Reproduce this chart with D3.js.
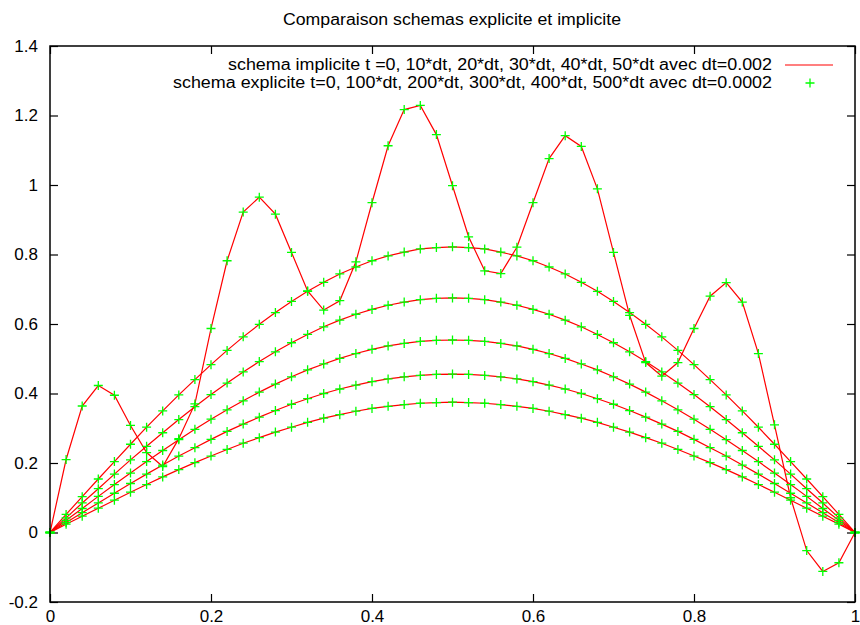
<!DOCTYPE html>
<html>
<head>
<meta charset="utf-8">
<script src="https://cdn.jsdelivr.net/npm/d3@7"></script>
<style>
  html, body { margin: 0; padding: 0; background: #fff; }
  svg { display: block; }
  text { font-family: "Liberation Sans", Arial, Helvetica, sans-serif; fill: #000; }
</style>
</head>
<body>
<svg id="chart" width="860" height="625"></svg>
<script>
const titleText = "Comparaison schemas explicite et implicite";
const legendLabels = [
  "schema implicite t =0, 10*dt, 20*dt, 30*dt, 40*dt, 50*dt avec dt=0.002",
  "schema explicite t=0, 100*dt, 200*dt, 300*dt, 400*dt, 500*dt avec dt=0.0002"
];
const xTicks = [0, 0.2, 0.4, 0.6, 0.8, 1];
const xTickLabels = ["0", "0.2", "0.4", "0.6", "0.8", "1"];
const yTicks = [-0.2, 0, 0.2, 0.4, 0.6, 0.8, 1, 1.2, 1.4];
const yTickLabels = ["-0.2", "0", "0.2", "0.4", "0.6", "0.8", "1", "1.2", "1.4"];

const xs = [0, 0.02, 0.04, 0.06, 0.08, 0.10, 0.12, 0.14, 0.16, 0.18, 0.20, 0.22, 0.24, 0.26, 0.28, 0.30,
  0.32, 0.34, 0.36, 0.38, 0.40, 0.42, 0.44, 0.46, 0.48, 0.50, 0.52, 0.54, 0.56, 0.58, 0.60, 0.62, 0.64,
  0.66, 0.68, 0.70, 0.72, 0.74, 0.76, 0.78, 0.80, 0.82, 0.84, 0.86, 0.88, 0.90, 0.92, 0.94, 0.96, 0.98, 1.00];

const t0 = [0, 0.21, 0.364, 0.423, 0.395, 0.308, 0.23, 0.19, 0.27, 0.37, 0.587, 0.782, 0.922, 0.965, 0.916,
  0.806, 0.695, 0.640, 0.667, 0.779, 0.949, 1.113, 1.217, 1.229, 1.145, 0.998, 0.851, 0.753, 0.745, 0.821,
  0.949, 1.076, 1.142, 1.111, 0.989, 0.806, 0.625, 0.489, 0.450, 0.489, 0.587, 0.680, 0.719, 0.663, 0.515,
  0.310, 0.10, -0.052, -0.112, -0.087, 0];
const t10 = [0, 0.052, 0.103, 0.154, 0.204, 0.254, 0.303, 0.350, 0.396, 0.440, 0.483, 0.524, 0.563, 0.599,
  0.633, 0.665, 0.694, 0.720, 0.744, 0.764, 0.782, 0.796, 0.807, 0.816, 0.820, 0.822, 0.820, 0.816, 0.807,
  0.796, 0.782, 0.764, 0.744, 0.720, 0.694, 0.665, 0.633, 0.599, 0.563, 0.524, 0.483, 0.440, 0.396, 0.350,
  0.303, 0.254, 0.204, 0.154, 0.103, 0.052, 0];
const t20 = [0, 0.042, 0.085, 0.126, 0.168, 0.209, 0.248, 0.287, 0.325, 0.362, 0.397, 0.430, 0.462, 0.492,
  0.520, 0.546, 0.570, 0.592, 0.611, 0.628, 0.642, 0.654, 0.663, 0.670, 0.674, 0.675, 0.674, 0.670, 0.663,
  0.654, 0.642, 0.628, 0.611, 0.592, 0.570, 0.546, 0.520, 0.492, 0.462, 0.430, 0.397, 0.362, 0.325, 0.287,
  0.248, 0.209, 0.168, 0.126, 0.085, 0.042, 0];
const t30 = [0, 0.035, 0.069, 0.104, 0.138, 0.171, 0.204, 0.236, 0.267, 0.297, 0.326, 0.353, 0.379, 0.404,
  0.427, 0.448, 0.468, 0.485, 0.501, 0.515, 0.527, 0.537, 0.544, 0.550, 0.553, 0.554, 0.553, 0.550, 0.544,
  0.537, 0.527, 0.515, 0.501, 0.485, 0.468, 0.448, 0.427, 0.404, 0.379, 0.353, 0.326, 0.297, 0.267, 0.236,
  0.204, 0.171, 0.138, 0.104, 0.069, 0.035, 0];
const t40 = [0, 0.029, 0.057, 0.085, 0.113, 0.141, 0.168, 0.194, 0.220, 0.244, 0.268, 0.291, 0.312, 0.332,
  0.351, 0.369, 0.385, 0.400, 0.413, 0.424, 0.434, 0.442, 0.448, 0.452, 0.455, 0.456, 0.455, 0.452, 0.448,
  0.442, 0.434, 0.424, 0.413, 0.400, 0.385, 0.369, 0.351, 0.332, 0.312, 0.291, 0.268, 0.244, 0.220, 0.194,
  0.168, 0.141, 0.113, 0.085, 0.057, 0.029, 0];
const t50 = [0, 0.024, 0.047, 0.070, 0.093, 0.116, 0.138, 0.160, 0.181, 0.201, 0.220, 0.239, 0.257, 0.273,
  0.289, 0.303, 0.317, 0.329, 0.339, 0.349, 0.357, 0.363, 0.368, 0.372, 0.374, 0.375, 0.374, 0.372, 0.368,
  0.363, 0.357, 0.349, 0.339, 0.329, 0.317, 0.303, 0.289, 0.273, 0.257, 0.239, 0.220, 0.201, 0.181, 0.160,
  0.138, 0.116, 0.093, 0.070, 0.047, 0.024, 0];

const seriesList = [t0, t10, t20, t30, t40, t50];

const svg = d3.select("#chart");
svg.append("rect").attr("width", 860).attr("height", 625).attr("fill", "#fff");

const pLeft = 50, pRight = 855, pTop = 46, pBottom = 602;
const x = d3.scaleLinear().domain([0, 1]).range([pLeft, pRight]);
const y = d3.scaleLinear().domain([-0.2, 1.4]).range([pBottom, pTop]);

// Title
svg.append("text")
  .attr("x", 452).attr("y", 25)
  .attr("text-anchor", "middle")
  .attr("textLength", 338).attr("lengthAdjust", "spacingAndGlyphs")
  .style("font-size", "16px")
  .text(titleText);

// Axes (ticks inward, mirrored)
const fontSize = "17px";
const gL = svg.append("g").attr("transform", `translate(${pLeft},0)`)
  .call(d3.axisLeft(y).tickValues(yTicks).tickSize(-8).tickPadding(12)
    .tickFormat((d, i) => yTickLabels[i]));
const gR = svg.append("g").attr("transform", `translate(${pRight},0)`)
  .call(d3.axisRight(y).tickValues(yTicks).tickSize(-8).tickFormat(""));
const gB = svg.append("g").attr("transform", `translate(0,${pBottom})`)
  .call(d3.axisBottom(x).tickValues(xTicks).tickSize(-8).tickPadding(8)
    .tickFormat((d, i) => xTickLabels[i]));
const gT = svg.append("g").attr("transform", `translate(0,${pTop})`)
  .call(d3.axisTop(x).tickValues(xTicks).tickSize(-8).tickFormat(""));
[gL, gR, gB, gT].forEach(g => {
  g.select(".domain").remove();
  g.selectAll(".tick line").attr("stroke", "#000").attr("stroke-width", 1.2);
  g.selectAll(".tick text").style("font-size", fontSize)
    .style("font-family", '"Liberation Sans", Arial, sans-serif').attr("fill", "#000");
});

// Legend
svg.append("text").attr("x", 772).attr("y", 70).attr("text-anchor", "end")
  .attr("textLength", 544).attr("lengthAdjust", "spacingAndGlyphs")
  .style("font-size", "16px").text(legendLabels[0]);
svg.append("text").attr("x", 772).attr("y", 88).attr("text-anchor", "end")
  .attr("textLength", 599).attr("lengthAdjust", "spacingAndGlyphs")
  .style("font-size", "16px").text(legendLabels[1]);
svg.append("line").attr("x1", 785).attr("x2", 833).attr("y1", 65).attr("y2", 65)
  .attr("stroke", "#ff0000").attr("stroke-width", 1.2);

const plusPath = (cx, cy, r) => `M${cx - r},${cy}H${cx + r}M${cx},${cy - r}V${cy + r}`;
svg.append("path").attr("d", plusPath(810, 83, 4.5))
  .attr("stroke", "#00ff00").attr("stroke-width", 1.3).attr("fill", "none");

// Lines (implicit scheme)
const line = d3.line().x((d, i) => x(xs[i])).y(d => y(d));
const plot = svg.append("g");
seriesList.forEach(s => {
  plot.append("path").attr("d", line(s)).attr("fill", "none")
    .attr("stroke", "#ff0000").attr("stroke-width", 1.2);
});

// Points (explicit scheme)
seriesList.forEach(s => {
  plot.append("path")
    .attr("d", s.map((v, i) => plusPath(x(xs[i]), y(v), 4.5)).join(""))
    .attr("stroke", "#00ff00").attr("stroke-width", 1.3).attr("fill", "none");
});

// Frame
svg.append("rect").attr("x", pLeft).attr("y", pTop)
  .attr("width", pRight - pLeft).attr("height", pBottom - pTop)
  .attr("fill", "none").attr("stroke", "#000").attr("stroke-width", 1.5);
</script>
</body>
</html>
